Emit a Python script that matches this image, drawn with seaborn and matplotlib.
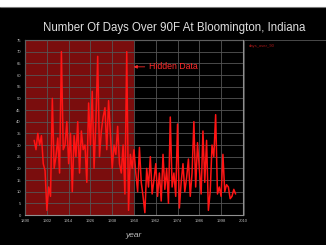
import matplotlib
matplotlib.use("Agg")
import matplotlib.pyplot as plt
import matplotlib.patches as mpatches
import matplotlib.lines as mlines
import seaborn as sns
import pandas as pd

years = list(range(1895, 2007))
days_over_90 = [32, 28, 35, 30, 34, 22, 19, 2, 12, 8,
                50, 20, 25, 33, 18, 70, 28, 30, 40, 22,
                35, 10, 34, 25, 40, 18, 36, 28, 30, 14,
                48, 30, 53, 20, 40, 68, 25, 36, 42, 46,
                28, 49, 35, 20, 30, 26, 38, 22, 18, 30,
                9, 70, 2, 26, 20, 28, 18, 10, 29, 14,
                8, 1, 20, 12, 25, 9, 15, 22, 8, 18,
                6, 26, 11, 20, 5, 42, 12, 18, 8, 39,
                3, 14, 22, 10, 16, 24, 8, 18, 40, 12,
                31, 20, 9, 36, 14, 32, 2, 10, 30, 25,
                43, 9, 12, 8, 26, 10, 13, 12, 7, 8,
                11, 9]
xticks = [1890, 1902, 1914, 1926, 1938, 1950, 1962, 1974, 1986, 1998, 2010]
yticks = list(range(0, 80, 5))
hidden_end = 1949.5
title = "Number Of Days Over 90F At Bloomington, Indiana"

df = pd.DataFrame({"year": years, "days_over_90": days_over_90})

sns.set_style("dark")
plt.rcParams["font.family"] = ["Liberation Sans", "DejaVu Sans"]

fig = plt.figure(figsize=(3.26, 2.45), dpi=100)
fig.patch.set_facecolor("black")
ax = fig.add_axes([0.077, 0.1224, 0.668, 0.7143])
ax.set_facecolor("black")

ax.axvspan(xticks[0], hidden_end, color="#7a0d0d", zorder=0)
sns.lineplot(data=df, x="year", y="days_over_90", ax=ax, color="#ff1414",
             linewidth=1.1, zorder=3, legend=False)

ax.set_xlim(xticks[0], xticks[-1])
ax.set_ylim(0, 75)
ax.set_xticks(xticks)
ax.set_yticks(yticks)
ax.set_xticklabels([str(t) for t in xticks], color="#bbbbbb", fontsize=3)
ax.set_yticklabels([str(t) for t in yticks], color="#bbbbbb", fontsize=3)
ax.tick_params(length=0, pad=3)
ax.grid(True, color="#555555", linewidth=0.6)
ax.set_axisbelow(False)
for s in ax.spines.values():
    s.set_color("#909090")
    s.set_linewidth(0.8)
ax.set_xlabel("year", color="#bbbbbb", fontsize=6, style="italic", labelpad=6)
ax.set_ylabel("")

ax.annotate("Hidden Data", xy=(hidden_end + 0.3, 63.5), xytext=(1958.5, 63.5),
            color="#ff2a2a", fontsize=6.3, va="center", ha="left",
            arrowprops=dict(arrowstyle="-|>", color="#ff2a2a", lw=0.6,
                            mutation_scale=5, shrinkA=1, shrinkB=0), zorder=5)

fig.text(0.535, 0.885, title, color="#e0e0e0", fontsize=8.3, ha="center", va="center")
fig.text(0.762, 0.812, "days_over_90", color="#b01818", fontsize=3, ha="left", va="center")

# legend panel border
fig.add_artist(mlines.Line2D([0.748, 1.0], [0.8367, 0.8367], color="#555555", lw=0.6))
fig.add_artist(mlines.Line2D([0.748, 0.748], [0.1224, 0.8367], color="#555555", lw=0.6))
# white strip at the top
fig.add_artist(mpatches.Rectangle((0, 0.972), 1, 0.03, transform=fig.transFigure,
                                  facecolor="white", edgecolor="none"))
fig.add_artist(mlines.Line2D([0, 1], [0.972, 0.972], color="#777777", lw=0.8))

fig.savefig("out.png", dpi=100, facecolor="black")
